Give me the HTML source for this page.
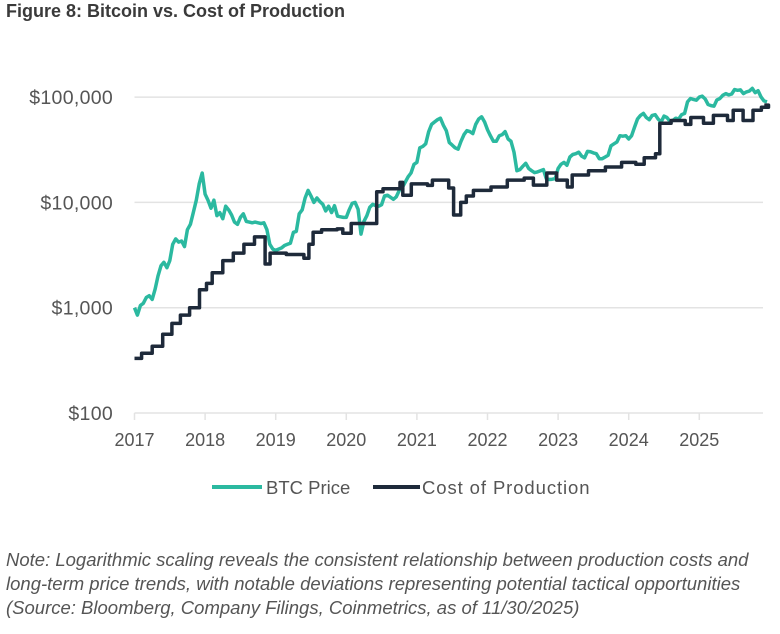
<!DOCTYPE html>
<html><head><meta charset="utf-8"><style>
body{margin:0;background:#fff;width:780px;height:634px;overflow:hidden;font-family:"Liberation Sans",sans-serif;}
#title{position:absolute;left:6px;top:1px;font-size:18px;font-weight:bold;color:#3a3a3a;}
#note{position:absolute;left:6px;top:548px;font-size:18.5px;font-style:italic;color:#555;line-height:24px;white-space:nowrap;}
svg{position:absolute;left:0;top:0;}
</style></head><body>
<div id="title">Figure 8: Bitcoin vs. Cost of Production</div>
<svg id="chart" width="780" height="634"></svg>
<div id="note">Note: Logarithmic scaling reveals the consistent relationship between production costs and<br>long-term price trends, with notable deviations representing potential tactical opportunities<br>(Source: Bloomberg, Company Filings, Coinmetrics, as of 11/30/2025)</div>
<script>
const years=[2017,2018,2019,2020,2021,2022,2023,2024,2025];
const yTicks=[100,1000,10000,100000];
const yTickLabels=["$100","$1,000","$10,000","$100,000"];
// BTC price, semi-monthly points starting Jan 2017
const priceStart=2017;
const priceStep=1/24;
const price=[1000,850,1050,1100,1250,1300,1200,1500,2000,2500,2700,2400,2800,4000,4500,4200,4300,3800,5500,6200,8000,10500,15000,19000,
12000,10500,8800,10500,7500,8000,7000,9200,8500,7600,6500,6200,7200,7800,6600,6500,6400,6500,6400,6300,6400,5500,4000,3600,
3500,3600,3700,3900,4000,4100,5200,5300,7800,8500,11000,13000,11500,10000,11000,10200,9600,8300,9200,8000,9300,7400,7300,7200,
7200,8500,9800,10000,8600,5000,6600,7500,9000,9600,9300,9200,9500,11500,11700,11200,10700,11300,13000,13800,15500,17500,19000,23000,
24000,33000,34000,36000,47000,55000,58000,61000,63000,54000,48000,37000,35000,33000,32000,38000,44000,48000,47000,45000,55000,62000,65000,58000,
49000,43000,38000,38000,43000,44000,47000,40000,38000,30000,20000,20500,22000,23500,21000,20000,19200,19500,20000,20500,16800,16500,16600,16800,
21000,23000,24000,22500,27000,28500,29000,30000,27500,26500,30500,30300,29500,29000,26000,26000,27000,28000,34500,36000,37500,43000,42500,43000,
40000,43000,52000,62000,67000,70000,64000,61000,67000,68000,62000,58000,66000,64000,59000,60000,63000,62000,68000,70000,90000,97000,95000,93500,
100000,102000,96000,85000,83000,82000,94000,97000,104000,108000,105000,107000,118000,116000,117000,108000,112000,114000,121000,110000,115000,100000,92000,90000];
// Cost of production: step changes (fractional year, value)
const costT=[2017.0,2017.1,2017.25,2017.4,2017.53,2017.65,2017.78,2017.92,2018.02,2018.1,2018.25,2018.4,2018.55,2018.7,2018.85,2018.92,2019.15,2019.4,2019.47,2019.53,2019.65,2019.87,2019.95,2020.07,2020.25,2020.43,2020.52,2020.76,2020.8,2020.92,2021.15,2021.22,2021.45,2021.52,2021.62,2021.7,2021.8,2022.05,2022.28,2022.52,2022.65,2022.84,2022.98,2023.13,2023.2,2023.43,2023.67,2023.9,2024.1,2024.22,2024.38,2024.44,2024.6,2024.8,2024.88,2025.06,2025.2,2025.4,2025.48,2025.62,2025.76,2025.88,2025.98];
const costV=[330,370,430,560,710,850,1000,1480,1700,2150,2800,3300,4000,4700,2600,3300,3200,2950,4000,5200,5500,5600,5100,6300,6300,12600,13500,15500,11700,15000,14500,16300,13700,7600,10000,11500,13000,14000,16300,17000,14600,19000,16300,14000,18200,20000,21700,24000,23000,26500,29000,56500,60000,55000,64000,56500,67000,60000,75000,60000,75000,80000,84000];
const tEnd=2025.92;
const ns="http://www.w3.org/2000/svg";
const svg=document.getElementById('chart');
const X=t=>134.5+70.6*(t-2017);
const Y=v=>413-105.3*(Math.log10(v)-2);
function el(tag,attrs){const e=document.createElementNS(ns,tag);for(const k in attrs)e.setAttribute(k,attrs[k]);svg.appendChild(e);return e;}
yTicks.forEach((v,i)=>{
  const g=el('line',{x1:134.5,x2:763,y1:Y(v),y2:Y(v),stroke:'#e3e3e3','stroke-width':1.5});
  
  
  const t=el('text',{x:113,y:Y(v)+7,'text-anchor':'end','font-size':19.5,fill:'#555','letter-spacing':'0.3'});
  t.textContent=yTickLabels[i];
  
  
});
years.forEach(yr=>{
  const tk=el('line',{x1:X(yr),x2:X(yr),y1:413,y2:420,stroke:'#e3e3e3','stroke-width':1.5});
  
  
  const t=el('text',{x:X(yr),y:446,'text-anchor':'middle','font-size':18,fill:'#555'});
  t.textContent=yr;
  
  
});
let d='';
price.forEach((v,i)=>{d+=(i?'L':'M')+X(priceStart+i*priceStep).toFixed(1)+','+Y(v).toFixed(1);});
const pl=el('path',{d:d,fill:'none',stroke:'#2bb9a0','stroke-width':3.5,'stroke-linejoin':'round'});


let c='';
costT.forEach((t,i)=>{
  if(i===0)c+='M'+X(t).toFixed(1)+','+Y(costV[i]).toFixed(1);
  else c+='H'+X(t).toFixed(1)+'V'+Y(costV[i]).toFixed(1);
});
c+='H'+X(tEnd).toFixed(1);
const cl=el('path',{d:c,fill:'none',stroke:'#1e2a3a','stroke-width':3.5,'stroke-linejoin':'round'});


// legend
const l1=el('line',{x1:212,x2:262,y1:487,y2:487,stroke:'#2bb9a0','stroke-width':4});


const lt1=el('text',{x:266,y:494,'font-size':18.5,fill:'#555'});lt1.textContent='BTC Price';


const l2=el('line',{x1:373,x2:420,y1:487,y2:487,stroke:'#1e2a3a','stroke-width':4});


const lt2=el('text',{x:422,y:494,'font-size':18.5,fill:'#555','letter-spacing':'0.9'});lt2.textContent='Cost of Production';


</script>
</body></html>
